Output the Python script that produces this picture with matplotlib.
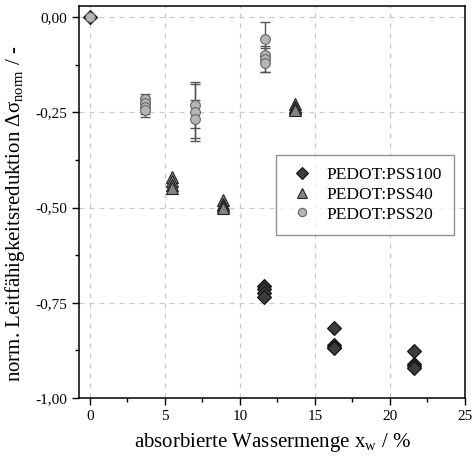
import matplotlib
matplotlib.use("Agg")
import matplotlib.pyplot as plt
from matplotlib.ticker import MultipleLocator, FuncFormatter

plt.rcParams['font.family'] = ['Liberation Serif', 'DejaVu Serif']
plt.rcParams['mathtext.fontset'] = 'custom'
plt.rcParams['mathtext.rm'] = 'Liberation Serif'
plt.rcParams['mathtext.it'] = 'Liberation Serif:italic'

# PEDOT:PSS100
x100 = [0, 11.6, 11.6, 11.6, 11.6, 16.3, 16.3, 16.3, 16.3, 21.6, 21.6, 21.6, 21.6]
y100 = [0, -0.705, -0.715, -0.725, -0.735, -0.815, -0.86, -0.865, -0.87, -0.877, -0.91, -0.915, -0.92]

# PEDOT:PSS40
x40 = [5.5, 5.5, 5.5, 5.5, 8.9, 8.9, 8.9, 8.9, 13.7, 13.7, 13.7, 13.7]
y40 = [-0.42, -0.43, -0.44, -0.45, -0.48, -0.49, -0.495, -0.50, -0.228, -0.235, -0.24, -0.245]

# PEDOT:PSS20 (with error bars)
x20 = [0, 3.65, 3.65, 3.65, 3.65, 7.0, 7.0, 7.0, 11.7, 11.7, 11.7, 11.7]
y20 = [0, -0.215, -0.225, -0.235, -0.243, -0.23, -0.25, -0.268, -0.058, -0.10, -0.11, -0.12]
e20 = [0, 0.013, 0.015, 0.02, 0.02, 0.06, 0.075, 0.05, 0.044, 0.02, 0.035, 0.025]

fig = plt.figure(figsize=(4.72, 4.62), dpi=100)
ax = fig.add_axes([0.168, 0.1385, 0.817, 0.8485])

ax.grid(True, color='#c8c8c8', linestyle=(0, (4, 4)), linewidth=0.9)
ax.set_axisbelow(True)

ax.plot(x100, y100, linestyle='none', marker='D', markersize=7.5,
        markerfacecolor='#3c3c3c', markeredgecolor='#111111', markeredgewidth=0.8,
        label='PEDOT:PSS100', zorder=3)
ax.plot(x40, y40, linestyle='none', marker='^', markersize=8,
        markerfacecolor='#858585', markeredgecolor='#222222', markeredgewidth=0.8,
        label='PEDOT:PSS40', zorder=3)
ax.errorbar(x20, y20, yerr=e20, linestyle='none', marker='none',
            ecolor='#555555', elinewidth=1.0, capsize=3.5, capthick=1.0, zorder=4)
ax.plot(x20, y20, linestyle='none', marker='o', markersize=7,
        markerfacecolor='#b5b5b5', markeredgecolor='#666666', markeredgewidth=0.8,
        label='PEDOT:PSS20', zorder=5)

ax.set_xlim(-0.7, 25)
ax.set_ylim(-1.0, 0.029)
ax.xaxis.set_major_locator(MultipleLocator(5))
ax.xaxis.set_minor_locator(MultipleLocator(2.5))
ax.yaxis.set_major_locator(MultipleLocator(0.25))
ax.yaxis.set_minor_locator(MultipleLocator(0.125))
ax.yaxis.set_major_formatter(FuncFormatter(lambda v, p: ('%.2f' % v).replace('.', ',')))

ax.tick_params(which='both', direction='out', top=False, right=False, labelsize=11)
ax.tick_params(which='major', length=5, width=1)
ax.tick_params(which='minor', length=3, width=1)
for s in ax.spines.values():
    s.set_linewidth(1.1)

ax.set_xlabel(r'absorbierte Wassermenge x$_{\mathregular{w}}$ / %', fontsize=15, labelpad=6)
ax.set_ylabel(r'norm. Leitfähigkeitsreduktion Δσ$_{\mathregular{norm}}$ / -', fontsize=15)
ax.yaxis.set_label_coords(-0.135, 0.47)

leg = ax.legend(loc='upper right', bbox_to_anchor=(0.972, 0.62), fontsize=12.5,
                frameon=True, fancybox=False, borderaxespad=0, handletextpad=0.6,
                handlelength=1.6, borderpad=0.7, labelspacing=0.2, markerscale=0.85)
leg.get_frame().set_edgecolor('#777777')
leg.get_frame().set_linewidth(1.0)

fig.savefig('out.png', dpi=100)
